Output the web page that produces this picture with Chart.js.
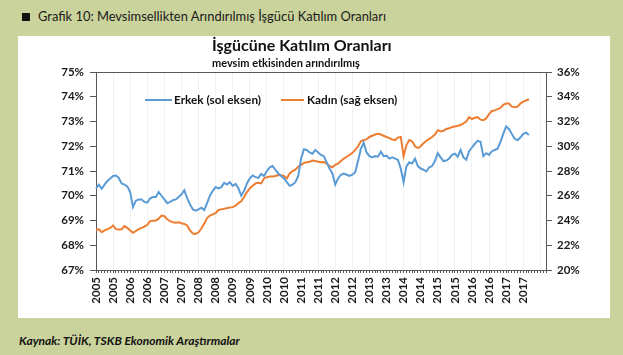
<!DOCTYPE html>
<html>
<head>
<meta charset="utf-8">
<script src="https://cdn.jsdelivr.net/npm/chart.js@4/dist/chart.umd.min.js"></script>
<style>
  html, body { margin: 0; padding: 0; }
  body { width: 623px; height: 355px; background: #cad39b; position: relative; overflow: hidden; font-family: Lato, "Open Sans", sans-serif; }
  .abs { position: absolute; white-space: nowrap; }
  #panel { position: absolute; left: 18px; top: 36px; width: 592px; height: 282px; background: #ffffff; }
  #chartWrap { position: absolute; left: 18px; top: 36px; width: 592px; height: 282px; }
  .leg { position: absolute; height: 2px; }
</style>
</head>
<body>
<div class="abs" style="left:22px;top:13px;width:8px;height:8px;background:#111;"></div>
<div class="abs" style="left:38px;top:8px;font-size:12.9px;line-height:17px;color:#1a1a1a;">Grafik 10: Mevsimsellikten Arındırılmış İşgücü Katılım Oranları</div>
<div id="panel"></div>
<div id="chartWrap"><canvas id="c" width="592" height="282"></canvas></div>
<div class="abs" style="left:212px;top:36px;font-size:16px;line-height:18px;font-weight:bold;color:#111;">İşgücüne Katılım Oranları</div>
<div class="abs" style="left:212px;top:56px;font-size:11px;line-height:14px;font-weight:bold;color:#111;">mevsim etkisinden arındırılmış</div>
<div class="leg" style="left:145px;top:99px;width:27px;background:#5b9bd5;"></div>
<div class="abs" style="left:174px;top:93px;font-size:11.8px;line-height:14px;font-weight:bold;color:#111;">Erkek (sol eksen)</div>
<div class="leg" style="left:281px;top:99px;width:23px;background:#ed7d31;"></div>
<div class="abs" style="left:307px;top:93px;font-size:11.8px;line-height:14px;font-weight:bold;color:#111;">Kadın (sağ eksen)</div>
<div class="abs" style="left:19px;top:334px;font-size:12px;line-height:14px;font-weight:bold;font-style:italic;color:#111;">Kaynak: TÜİK, TSKB Ekonomik Araştırmalar</div>
<script>
// Monthly data, Jan 2005 – Sep 2017 (seasonally adjusted participation rates, %)
const startYear = 2005;
const erkek = [
  70.3, 70.45, 70.28, 70.45, 70.6, 70.7, 70.8, 70.82, 70.72, 70.5,
  70.45, 70.38, 70.15, 69.55, 69.8, 69.85, 69.85, 69.75, 69.72, 69.9,
  69.95, 69.95, 70.15, 70.0, 69.85, 69.7, 69.75, 69.82, 69.85, 69.95,
  70.05, 70.22, 69.9, 69.65, 69.45, 69.4, 69.45, 69.52, 69.42, 69.7,
  70.0, 70.2, 70.35, 70.3, 70.35, 70.52, 70.45, 70.55, 70.4, 70.48,
  70.3, 70.0, 70.2, 70.5, 70.7, 70.82, 70.75, 70.72, 70.88, 70.8,
  71.0, 71.15, 71.2, 71.05, 70.9, 70.8, 70.7, 70.55, 70.4, 70.45,
  70.55, 70.8, 71.5, 71.88, 71.85, 71.75, 71.7, 71.85, 71.75, 71.65,
  71.6, 71.35, 71.1, 70.9, 70.45, 70.7, 70.85, 70.9, 70.85, 70.8,
  70.85, 70.95, 71.4, 71.9, 72.15, 71.75, 71.6, 71.55, 71.6, 71.58,
  71.78, 71.6, 71.62, 71.5, 71.55, 71.5, 71.45, 71.1, 70.55, 71.2,
  71.35, 71.3, 71.5, 71.2, 71.1, 71.05, 70.98, 71.15, 71.2, 71.4,
  71.72, 71.55, 71.4, 71.42, 71.5, 71.65, 71.7, 71.58, 71.85, 71.55,
  71.45, 71.8, 71.95, 72.1, 72.22, 72.18, 71.6, 71.72, 71.65, 71.8,
  71.85, 71.9, 72.18, 72.5, 72.8, 72.7, 72.5, 72.3, 72.25, 72.35,
  72.5, 72.55, 72.45
];
const kadin = [
  23.2, 23.3, 23.05, 23.2, 23.3, 23.4, 23.6, 23.3, 23.28, 23.3,
  23.55, 23.4, 23.2, 23.0, 23.15, 23.3, 23.4, 23.5, 23.65, 23.95,
  23.98, 24.0, 24.15, 24.4, 24.35, 24.1, 23.95, 23.85, 23.82, 23.85,
  23.78, 23.72, 23.6, 23.2, 22.95, 22.92, 23.05, 23.35, 23.75, 24.2,
  24.4, 24.5, 24.6, 24.85, 24.9, 24.95, 25.0, 25.05, 25.08, 25.2,
  25.4, 25.55, 25.9, 26.3, 26.6, 26.8, 27.0, 27.05, 27.0, 27.4,
  27.5, 27.55, 27.55, 27.6, 27.68, 27.65, 27.6, 27.4, 27.8, 28.0,
  28.1, 28.35, 28.5, 28.65, 28.7, 28.75, 28.85, 28.8, 28.75, 28.7,
  28.72, 28.6, 28.4, 28.3, 28.5, 28.6, 28.8, 29.0, 29.15, 29.3,
  29.45, 29.7, 30.0, 30.4, 30.5, 30.55, 30.75, 30.85, 30.95, 31.0,
  30.95, 30.85, 30.75, 30.65, 30.55, 30.5, 30.7, 30.75, 29.2, 30.1,
  30.5, 30.4, 30.0, 29.85, 30.0, 30.25, 30.45, 30.6, 30.75, 30.95,
  31.3, 31.2, 31.25, 31.4, 31.45, 31.55, 31.6, 31.65, 31.72, 31.85,
  32.0, 32.35, 32.2, 32.3, 32.35, 32.15, 32.1, 32.25, 32.6, 32.85,
  32.9, 33.0, 33.1, 33.35, 33.45, 33.45, 33.2, 33.15, 33.2, 33.45,
  33.6, 33.7, 33.8
];
const emptyTrailing = 6; // blank categories after the last observation on the axis
const labelEvery = 6;
const leftTicks = { min: 67, max: 75, step: 1 };
const rightTicks = { min: 20, max: 36, step: 2 };

const categories = [];
for (let i = 0; i < erkek.length + emptyTrailing; i++) {
  categories.push(i < erkek.length ? String(startYear + Math.floor(i / 12)) : '');
}

const axisColor = '#595959';
const tickFont = { family: 'Lato, "Open Sans", sans-serif', size: 11.5, weight: 'bold' };

new Chart(document.getElementById('c'), {
  type: 'line',
  data: {
    labels: categories,
    datasets: [
      { label: 'Erkek (sol eksen)', data: erkek, yAxisID: 'y', borderColor: '#5b9bd5', backgroundColor: '#5b9bd5', borderWidth: 2, pointRadius: 0, tension: 0 },
      { label: 'Kadın (sağ eksen)', data: kadin, yAxisID: 'y1', borderColor: '#ed7d31', backgroundColor: '#ed7d31', borderWidth: 2, pointRadius: 0, tension: 0 }
    ]
  },
  options: {
    responsive: false,
    animation: false,
    devicePixelRatio: 1,
    layout: { padding: { top: 36, left: 0, right: 0, bottom: 0 } },
    plugins: { legend: { display: false }, tooltip: { enabled: false }, title: { display: false } },
    scales: {
      x: {
        type: 'category',
        offset: false,
        afterFit: s => { s.height = 48; },
        border: { display: true, color: axisColor, width: 1 },
        grid: {
          drawOnChartArea: true,
          color: ctx => (ctx.index % labelEvery === 0 && ctx.index > 0) ? '#f1f1f1' : 'rgba(0,0,0,0)',
          tickColor: axisColor,
          tickLength: 3
        },
        ticks: {
          autoSkip: false,
          maxRotation: 90,
          minRotation: 90,
          padding: 4,
          color: '#1a1a1a',
          font: tickFont,
          callback: function (val, idx) { return idx % labelEvery === 0 ? this.getLabelForValue(val) : ''; }
        }
      },
      y: {
        position: 'left',
        min: leftTicks.min, max: leftTicks.max,
        afterFit: s => { s.width = 78; },
        border: { display: true, color: axisColor, width: 1 },
        grid: {
          drawOnChartArea: true,
          color: ctx => (ctx.tick && ctx.tick.value === leftTicks.max) ? axisColor : 'rgba(0,0,0,0)',
          tickColor: axisColor,
          tickLength: 6
        },
        ticks: { stepSize: leftTicks.step, padding: 6, color: '#1a1a1a', font: tickFont, callback: v => v + '%' }
      },
      y1: {
        position: 'right',
        min: rightTicks.min, max: rightTicks.max,
        afterFit: s => { s.width = 64; },
        border: { display: true, color: axisColor, width: 1 },
        grid: { drawOnChartArea: false, tickColor: axisColor, tickLength: 6 },
        ticks: { stepSize: rightTicks.step, padding: 5, color: '#1a1a1a', font: tickFont, callback: v => v + '%' }
      }
    }
  }
});
</script>
</body>
</html>
